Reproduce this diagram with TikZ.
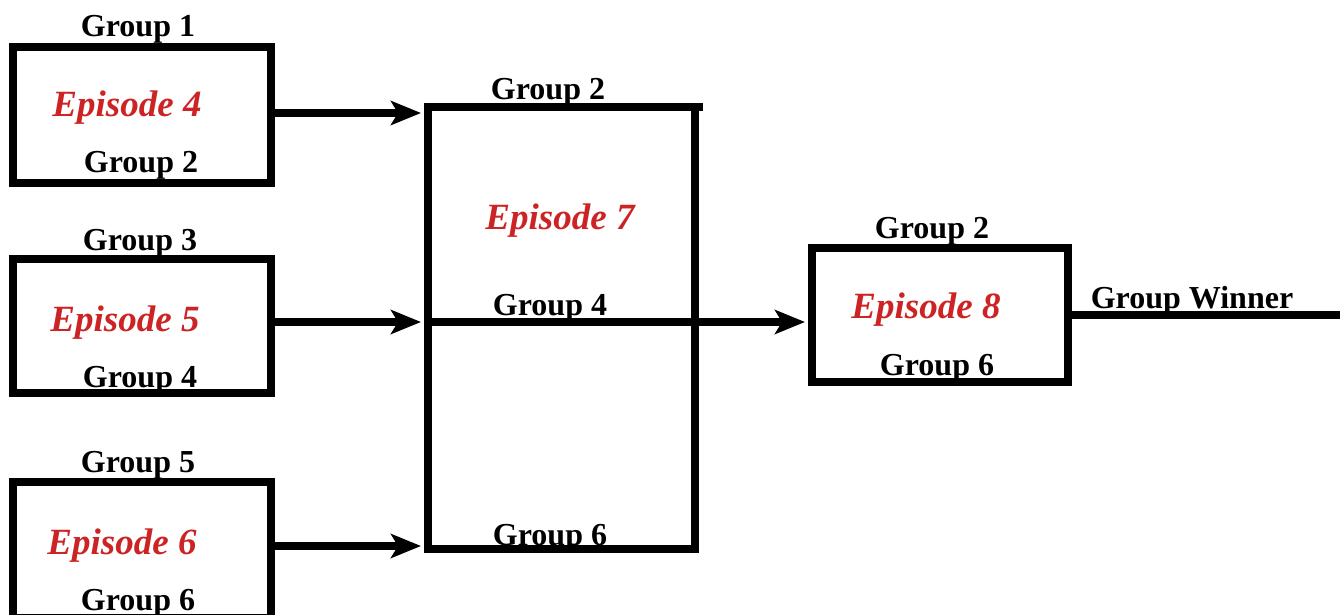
\documentclass[tikz,border=0pt]{standalone}
\usepackage{fontspec}
\setmainfont{Liberation Serif}
\usetikzlibrary{arrows.meta}
\definecolor{epred}{RGB}{204,36,36}
\begin{document}
\begin{tikzpicture}[x=1pt,y=-1pt,
  box/.style={draw=black,line width=8pt,rectangle,inner sep=0pt,outer sep=0pt},
  grp/.style={inner sep=0pt,font=\fontsize{32}{36}\selectfont\bfseries},
  epi/.style={inner sep=0pt,text=epred,font=\fontsize{37}{40}\selectfont\bfseries\itshape},
  conn/.style={line width=8pt},
  arr/.style={conn,-{Stealth[length=30pt,width=24pt,inset=7pt]},shorten >=3pt}]
\useasboundingbox (0,0) rectangle (1340,615);
% boxes
\node[box,minimum width=258pt,minimum height=136pt] (b1) at (142,115) {};
\node[box,minimum width=258pt,minimum height=134pt] (b2) at (142,326) {};
\node[box,minimum width=258pt,minimum height=136pt] (b3) at (142,550) {};
\node[box,minimum width=267pt,minimum height=442pt] (mid) at (561.5,328) {};
\node[box,minimum width=256pt,minimum height=134pt] (b4) at (940,315) {};
\coordinate (midext) at (703,107);
\draw[conn] (mid.north east) -- (midext);
% labels
\node[grp] (g1) at (138,29) {Group 1};
\node[epi] (e4) at (127,108) {Episode 4};
\node[grp] (g2a) at (141,165) {Group 2};
\node[grp] (g3) at (140,243) {Group 3};
\node[epi] (e5) at (125,323) {Episode 5};
\node[grp] (g4a) at (140,380) {Group 4};
\node[grp] (g5) at (138,465) {Group 5};
\node[epi] (e6) at (122,546) {Episode 6};
\node[grp] (g6a) at (138,603) {Group 6};
\node[grp] (g2b) at (548,92) {Group 2};
\node[epi] (e7) at (560,221) {Episode 7};
\node[grp] (g4b) at (550,308) {Group 4};
\node[grp] (g6b) at (550,538) {Group 6};
\node[grp] (g2c) at (932,231) {Group 2};
\node[epi] (e8) at (926,310) {Episode 8};
\node[grp] (g6c) at (937,368) {Group 6};
\node[grp] (gw) at (1192,301) {Group Winner};
% connectors
\coordinate (endw) at (1340,315);
\draw[arr] (b1.east |- 0,113) -- ([xshift=-4pt]mid.west |- 0,113);
\draw[arr] (b2.east |- 0,322) -- ([xshift=-4pt]mid.west |- 0,322);
\draw[arr] (b3.east |- 0,546) -- ([xshift=-4pt]mid.west |- 0,546);
\draw[arr] (mid.west |- 0,322) -- ([xshift=-4pt]b4.west |- 0,322);
\draw[conn] (b4.east |- endw) -- (endw);
\end{tikzpicture}
\end{document}
